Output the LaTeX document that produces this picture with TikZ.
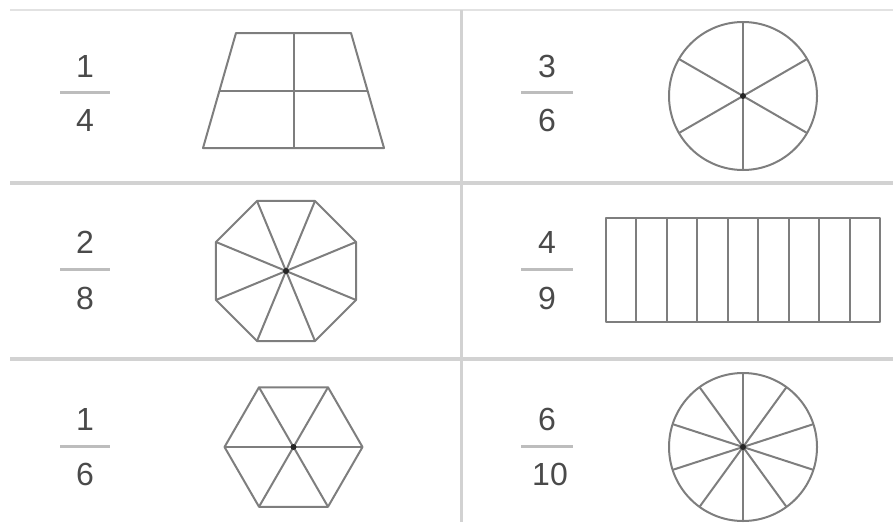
\documentclass[tikz,border=0pt]{standalone}
\usepackage{fontspec}
\setmainfont{Liberation Sans}
\usetikzlibrary{calc}
\definecolor{shapegray}{HTML}{7E7E7E}
\definecolor{gridgray}{HTML}{D2D2D2}
\definecolor{topgray}{HTML}{E2E2E2}
\definecolor{numgray}{HTML}{4A4A4A}
\definecolor{bargray}{HTML}{BDBDBD}
\begin{document}
\begin{tikzpicture}[x=1pt,y=-1pt,
  shp/.style={draw=shapegray, line width=2pt, line join=round},
  gridline/.style={draw=gridgray, line width=4pt},
  vline/.style={draw=gridgray, line width=3pt},
  topline/.style={draw=topgray, line width=2pt},
  num/.style={anchor=base, text=numgray, font=\fontsize{32}{36}\selectfont, inner sep=0pt},
  fbar/.style={draw=bargray, line width=3pt},
  cdot/.style={fill=black!85, draw=none}]
\useasboundingbox (0,0) rectangle (893,522);
% grid
\coordinate (tl) at (10,10); \coordinate (tr) at (893,10);
\coordinate (h1l) at (10,183); \coordinate (h1r) at (893,183);
\coordinate (h2l) at (10,359); \coordinate (h2r) at (893,359);
\coordinate (vt) at (461,10); \coordinate (vb) at (461,522);
\draw[topline] (tl) -- (tr);
\draw[gridline] (h1l) -- (h1r);
\draw[gridline] (h2l) -- (h2r);
\draw[vline] (vt) -- (vb);
% fractions
\node[num] (n1) at (85,77) {1};
\draw[fbar] (60,92) -- (110,92);
\node[num] (d1) at (85,131) {4};
\node[num] (n2) at (547,77) {3};
\draw[fbar] (521,92) -- (573,92);
\node[num] (d2) at (547,131) {6};
\node[num] (n3) at (85,253) {2};
\draw[fbar] (60,269) -- (110,269);
\node[num] (d3) at (85,309) {8};
\node[num] (n4) at (547,253) {4};
\draw[fbar] (521,269) -- (573,269);
\node[num] (d4) at (547,309) {9};
\node[num] (n5) at (85,430) {1};
\draw[fbar] (60,446) -- (110,446);
\node[num] (d5) at (85,485) {6};
\node[num] (n6) at (547,430) {6};
\draw[fbar] (521,446) -- (573,446);
\node[num] (d6) at (550,485) {10};
% trapezoid
\draw[shp] (236,33) -- (351,33) -- (384,148) -- (203,148) -- cycle;
\draw[shp] (293.5,33) -- (293.5,148);
\draw[shp] (219.5,90.5) -- (367.5,90.5);
% circle 3/6
\coordinate (c1) at (743,96);
\draw[shp] (c1) circle[radius=74];
\foreach \a in {30,90,150} \draw[shp] ($(c1)+(\a:74)$) -- ($(c1)+(\a+180:74)$);
\fill[cdot] (c1) circle[radius=3];
% octagon
\coordinate (c2) at (286,271);
\draw[shp] ($(c2)+(22.5:75.8)$) \foreach \k in {1,...,7} { -- ($(c2)+(22.5+45*\k:75.8)$) } -- cycle;
\foreach \k in {0,...,3} \draw[shp] ($(c2)+(22.5+45*\k:75.8)$) -- ($(c2)+(202.5+45*\k:75.8)$);
\fill[cdot] (c2) circle[radius=3];
% rectangle
\draw[shp] (606,218) rectangle (880,322);
\foreach \k in {1,...,8} \draw[shp] ({606+\k*274/9},218) -- ({606+\k*274/9},322);
% hexagon
\coordinate (c3) at (293.5,447);
\draw[shp] ($(c3)+(0:69)$) \foreach \k in {1,...,5} { -- ($(c3)+(60*\k:69)$) } -- cycle;
\foreach \k in {0,1,2} \draw[shp] ($(c3)+(60*\k:69)$) -- ($(c3)+(180+60*\k:69)$);
\fill[cdot] (c3) circle[radius=3];
% circle 6/10
\coordinate (c4) at (743,447);
\draw[shp] (c4) circle[radius=74];
\foreach \k in {0,...,4} \draw[shp] ($(c4)+(18+36*\k:74)$) -- ($(c4)+(198+36*\k:74)$);
\fill[cdot] (c4) circle[radius=3];
\end{tikzpicture}
\end{document}
